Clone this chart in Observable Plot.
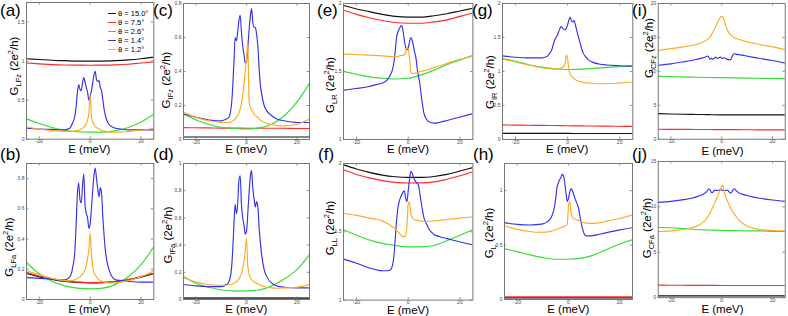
<!DOCTYPE html>
<html><head><meta charset="utf-8">
<script src="https://cdn.jsdelivr.net/npm/d3@7"></script>
<script src="https://cdn.jsdelivr.net/npm/@observablehq/plot@0.6"></script>
<style>
body{margin:0;background:#fff;font-family:"Liberation Sans",Arial,sans-serif;}
#root{position:relative;width:788px;height:316px;overflow:hidden;background:#fff;}
.panel{position:absolute;}
.panel svg{overflow:visible;}
.letter{position:absolute;font-size:17px;line-height:1;color:#000;white-space:nowrap;}
.ylab{position:absolute;font-size:11.5px;line-height:1;white-space:nowrap;transform:translate(-50%,-50%) rotate(-90deg);color:#000;}
.ylab .sb{font-size:7.5px;position:relative;top:3px;}
.ylab .sp{font-size:7.5px;position:relative;top:-5px;}
.xlab{position:absolute;font-size:11.5px;line-height:1;white-space:nowrap;transform:translate(-50%,-50%);color:#000;}
.legend{position:absolute;left:108px;top:9px;font-size:7.5px;line-height:9px;color:#000;}
.legend div{height:9px;white-space:nowrap;}
.legend .sw{display:inline-block;width:8px;height:0;border-top:1.4px solid;vertical-align:middle;margin-right:2px;position:relative;top:-1px;}
</style>
</head><body><div id="root"></div>
<script>
// ---------------- data ----------------
const E_c = [-25,-20,-15,-10,-5,0,5,10,15,20,25];
const E_f = [-25,-20,-15,-12,-10,-8,-7,-6,-5.5,-5,-4.5,-4,-3.5,-3,-2.5,-2,-1.5,-1,-0.5,0,0.5,1,1.5,2,2.5,3,3.5,4,4.5,5,5.5,6,7,8,10,12,15,20,25];
const xTicks = [-20,0,20];
const thetaLabels = ["θ = 15.0°","θ = 7.5°","θ = 2.6°","θ = 1.4°","θ = 1.2°"];

// (a) G_LFz
const aK = [1.03,1.02,1.01,1.005,1.0,1.0,1.0,1.005,1.015,1.03,1.05];
const aR = [0.975,0.965,0.955,0.95,0.948,0.947,0.948,0.952,0.96,0.975,0.99];
const aG = [0.26,0.2,0.15,0.115,0.095,0.09,0.09,0.11,0.15,0.22,0.32];
const aB = [0.14,0.13,0.125,0.12,0.12, 0.14,0.2,0.3,0.42,0.6, 0.70,0.64,0.62,0.72,0.79, 0.73,0.66,0.6,0.5,0.55, 0.62,0.72,0.82,0.87,0.76, 0.74,0.75,0.66,0.62,0.5, 0.38,0.3,0.21,0.17,0.14, 0.13,0.12,0.12,0.12];
const aO = [0.16,0.13,0.11,0.105,0.1, 0.1,0.1,0.105,0.11,0.11, 0.115,0.12,0.13,0.14,0.15, 0.17,0.2,0.25,0.33,0.57, 0.3,0.22,0.19,0.16,0.15, 0.14,0.13,0.12,0.115,0.11, 0.105,0.1,0.095,0.09,0.09, 0.09,0.1,0.115,0.14];
const aTicks = [0,0.5,1,1.5];
// (b) G_LFa
const bK = [0.172,0.15,0.133,0.12,0.113,0.11,0.112,0.118,0.13,0.148,0.17];
const bR = [0.18,0.155,0.137,0.123,0.115,0.112,0.113,0.12,0.133,0.152,0.175];
const bG = [0.245,0.17,0.12,0.09,0.075,0.07,0.075,0.1,0.15,0.23,0.35];
const bB = [0.145,0.14,0.135,0.13,0.13, 0.15,0.2,0.32,0.5,0.7, 0.77,0.66,0.64,0.75,0.83, 0.62,0.57,0.54,0.47,0.5, 0.6,0.72,0.82,0.87,0.8, 0.73,0.68,0.74,0.7,0.54, 0.42,0.32,0.22,0.17,0.13, 0.125,0.12,0.115,0.115];
const bO = [0.19,0.165,0.14,0.13,0.125, 0.125,0.125,0.13,0.135,0.14, 0.145,0.15,0.16,0.17,0.18, 0.2,0.23,0.27,0.33,0.44, 0.3,0.22,0.18,0.16,0.15, 0.14,0.13,0.125,0.12,0.12, 0.115,0.115,0.11,0.11,0.11, 0.115,0.125,0.15,0.19];
const bTicks = [0,0.2,0.4,0.6,0.8];
// (c) G_IFz
const cK = [0.015,0.015,0.015,0.015,0.015,0.015,0.015,0.015,0.015,0.015,0.015];
const cR = [0.07,0.069,0.068,0.067,0.067,0.066,0.066,0.066,0.066,0.065,0.065];
const cG = [0.15,0.115,0.09,0.072,0.065,0.062,0.068,0.09,0.14,0.22,0.33];
const cB = [0.15,0.13,0.115,0.11,0.11, 0.12,0.13,0.2,0.3,0.45, 0.6,0.58,0.63,0.7,0.73, 0.63,0.55,0.5,0.45,0.46, 0.53,0.64,0.72,0.77,0.69, 0.66,0.66,0.62,0.55,0.42, 0.32,0.27,0.2,0.17,0.14, 0.12,0.11,0.1,0.1];
const cO = [0.16,0.13,0.11,0.105,0.1, 0.1,0.1,0.105,0.11,0.115, 0.12,0.13,0.14,0.155,0.18, 0.21,0.26,0.32,0.4,0.48, 0.585,0.23,0.19,0.175,0.16, 0.15,0.14,0.135,0.13,0.12, 0.115,0.11,0.1,0.095,0.088, 0.083,0.08,0.09,0.12];
const cTicks = [0,0.2,0.4,0.6,0.8];
// (d) G_IFa
const dK = [0.005,0.005,0.005,0.005,0.005,0.005,0.005,0.005,0.005,0.005,0.005];
const dR = [0.015,0.015,0.015,0.015,0.015,0.015,0.015,0.015,0.015,0.015,0.015];
const dG = [0.17,0.12,0.09,0.07,0.062,0.063,0.07,0.1,0.15,0.22,0.33];
const dB = [0.11,0.1,0.095,0.095,0.095, 0.11,0.13,0.22,0.35,0.55, 0.7,0.63,0.7,0.88,0.91, 0.7,0.6,0.55,0.48,0.5, 0.63,0.78,0.9,0.95,0.82, 0.74,0.68,0.72,0.68,0.53, 0.42,0.33,0.22,0.17,0.12, 0.1,0.09,0.085,0.085];
const dO = [0.16,0.13,0.11,0.105,0.105, 0.105,0.11,0.11,0.115,0.12, 0.125,0.13,0.14,0.15,0.17, 0.19,0.23,0.28,0.36,0.45, 0.25,0.19,0.16,0.145,0.135, 0.13,0.125,0.12,0.115,0.11, 0.105,0.1,0.095,0.09,0.085, 0.083,0.085,0.09,0.11];
const dTicks = [0,0.2,0.4,0.6,0.8,1];
// (e) G_LR
const eK = [1.985,1.96,1.94,1.92,1.905,1.9,1.9,1.91,1.925,1.945,1.965];
const eR = [1.95,1.92,1.895,1.875,1.86,1.855,1.855,1.865,1.88,1.905,1.93];
const eG = [1.5,1.48,1.46,1.45,1.445,1.45,1.475,1.51,1.55,1.585,1.62];
const eB = [1.363,1.375,1.39,1.405,1.415, 1.44,1.47,1.52,1.57,1.65, 1.75,1.79,1.81,1.83,1.84, 1.8,1.73,1.68,1.66,1.67, 1.72,1.75,1.73,1.69,1.64, 1.6,1.52,1.46,1.41,1.33, 1.26,1.2,1.15,1.13,1.12, 1.125,1.14,1.165,1.19];
const eO = [1.628,1.625,1.62,1.617,1.615, 1.612,1.61,1.61,1.61,1.61, 1.61,1.612,1.614,1.616,1.618, 1.62,1.625,1.64,1.68,1.67, 1.6,1.5,1.485,1.485,1.487, 1.49,1.492,1.495,1.498,1.5, 1.503,1.506,1.51,1.516,1.53, 1.54,1.56,1.59,1.61];
const eTicks = [1,1.5,2];
// (f) G_LL
const fK = [1.99,1.96,1.935,1.915,1.903,1.898,1.898,1.905,1.92,1.945,1.97];
const fR = [1.954,1.92,1.895,1.875,1.862,1.857,1.858,1.865,1.885,1.91,1.94];
const fG = [1.515,1.475,1.44,1.415,1.4,1.39,1.39,1.4,1.435,1.475,1.515];
const fB = [1.30,1.27,1.235,1.22,1.215, 1.215,1.22,1.26,1.33,1.45, 1.58,1.67,1.72,1.75,1.77, 1.79,1.80,1.75,1.72,1.8, 1.88,1.94,1.93,1.9,1.88, 1.865,1.855,1.84,1.78,1.72, 1.66,1.61,1.56,1.52,1.48, 1.465,1.45,1.425,1.405];
const fO = [1.634,1.62,1.6,1.59,1.58, 1.56,1.55,1.535,1.53,1.52, 1.51,1.5,1.49,1.48,1.47, 1.465,1.463,1.47,1.54,1.7, 1.72,1.63,1.61,1.595,1.59, 1.585,1.583,1.58,1.58,1.578, 1.577,1.577,1.577,1.577,1.58, 1.583,1.59,1.6,1.61];
const fTicks = [1,1.5,2];
// (g) G_IR
const gK = [0.09,0.09,0.09,0.089,0.089,0.089,0.088,0.088,0.088,0.088,0.088];
const gR = [0.215,0.212,0.21,0.207,0.205,0.202,0.2,0.198,0.196,0.194,0.192];
const gG = [1.19,1.15,1.1,1.065,1.04,1.03,1.035,1.045,1.06,1.07,1.08];
const gB = [1.23,1.21,1.2,1.2,1.2, 1.22,1.26,1.33,1.4,1.46, 1.5,1.53,1.58,1.63,1.66, 1.64,1.62,1.61,1.64,1.69, 1.76,1.8,1.74,1.73,1.75, 1.68,1.6,1.53,1.46,1.39, 1.32,1.27,1.21,1.17,1.13, 1.11,1.095,1.085,1.08];
const gO = [1.18,1.14,1.095,1.07,1.055, 1.045,1.04,1.037,1.036,1.035, 1.036,1.038,1.04,1.045,1.05, 1.06,1.08,1.11,1.24,1.18, 1.02,0.96,0.93,0.91,0.895, 0.88,0.87,0.86,0.855,0.85, 0.845,0.84,0.835,0.83,0.825, 0.82,0.82,0.83,0.845];
const gTicks = [0,0.5,1,1.5,2];
// (h) G_L
const hK = [0.015,0.015,0.015,0.015,0.015,0.015,0.015,0.015,0.015,0.015,0.015];
const hR = [0.025,0.025,0.025,0.025,0.025,0.025,0.025,0.025,0.025,0.025,0.025];
const hG = [0.465,0.44,0.41,0.385,0.37,0.37,0.38,0.41,0.46,0.51,0.55];
const hB = [0.706,0.69,0.685,0.69,0.695, 0.72,0.745,0.8,0.85,0.93, 1.03,1.07,1.1,1.12,1.15, 1.14,1.08,0.98,0.9,0.93, 0.99,1.02,1.0,0.97,0.93, 0.9,0.87,0.83,0.76,0.7, 0.65,0.61,0.585,0.585,0.59, 0.6,0.615,0.64,0.66];
const hO = [0.676,0.645,0.625,0.618,0.618, 0.622,0.626,0.632,0.636,0.64, 0.645,0.65,0.655,0.66,0.665, 0.67,0.675,0.68,0.69,0.86, 0.9,0.8,0.76,0.745,0.74, 0.735,0.73,0.725,0.72,0.715, 0.71,0.707,0.703,0.7,0.7, 0.705,0.72,0.745,0.776];
const hTicks = [0,0.5,1];
// (i) G_CFz
const iK = [3.78,3.72,3.68,3.65,3.62,3.6,3.6,3.6,3.6,3.6,3.6];
const iR = [1.47,1.46,1.45,1.44,1.43,1.42,1.41,1.4,1.39,1.385,1.38];
const iG = [9.26,9.22,9.18,9.14,9.1,9.07,9.04,9.01,8.98,8.95,8.92];
const iB = [10.9,11.1,11.4,11.6,11.75, 11.95,12.05,12.2,12.26,12.0, 11.75,11.95,11.8,11.85,12.1, 12.0,11.9,12.05,12.1,11.9, 11.95,12.0,11.9,11.8,11.75, 11.7,11.75,12.1,12.5,12.6, 12.55,12.5,12.45,12.4,12.25, 12.1,11.9,11.6,11.2];
const iO = [13.1,13.35,13.6,13.8,13.95, 14.2,14.4,14.6,14.75,14.9, 15.1,15.4,15.8,16.1,16.5, 16.9,17.3,17.7,18.0,18.1, 18.0,17.5,16.8,16.3,15.9, 15.6,15.4,15.2,15.05,14.95, 14.85,14.8,14.7,14.55,14.35, 14.2,13.95,13.6,13.2];
const iTicks = [0,5,10,15,20];
// (j) G_CFa
const jK = [0.2,0.2,0.2,0.2,0.2,0.2,0.2,0.2,0.2,0.2,0.2];
const jR = [1.38,1.37,1.36,1.35,1.35,1.34,1.34,1.34,1.34,1.34,1.34];
const jG = [7.76,7.7,7.6,7.5,7.45,7.4,7.38,7.35,7.35,7.3,7.28];
const jB = [10.5,10.6,10.8,10.95,11.1, 11.3,11.45,11.65,11.85,12.0, 11.85,11.55,11.6,11.8,11.85, 11.8,11.8,11.85,11.9,11.85, 11.8,11.8,11.8,11.85,11.8, 11.6,11.5,11.65,11.9,12.0, 11.85,11.7,11.5,11.4,11.25, 11.1,10.95,10.75,10.6];
const jO = [7.28,7.35,7.5,7.7,7.85, 8.15,8.4,8.7,8.9,9.15, 9.4,9.7,9.95,10.3,10.6, 10.95,11.25,11.6,12.0,12.3, 12.4,11.6,11.2,10.85,10.5, 10.2,9.9,9.6,9.4,9.2, 9.0,8.8,8.5,8.25,7.9, 7.7,7.5,7.4,7.35];
const jTicks = [0,5,10,15];

// ---------------- layout ----------------
const colors = {K:"#111111", R:"#ff2a2a", G:"#33dd33", B:"#3333ee", O:"#ffaa22"};
const panels = [
  {L:"(a)", s:[aK,aR,aG,aB,aO], yd:[0,1.75], yt:aTicks, sub:"LFz", box:[25.7,153,2,138.7], lab:[15,66], let:[0,1.5]},
  {L:"(b)", s:[bK,bR,bG,bB,bO], yd:[0,0.9], yt:bTicks, sub:"LFa", box:[25.7,153,162.7,298.7], lab:[10,247], let:[0,146]},
  {L:"(c)", s:[cK,cR,cG,cB,cO], yd:[0,0.8], yt:cTicks, sub:"IFz", box:[183.3,309.3,2.7,138.7], lab:[167,80], let:[153,1.5]},
  {L:"(d)", s:[dK,dR,dG,dB,dO], yd:[0,1], yt:dTicks, sub:"IFa", box:[183.3,309.3,162.7,298.7], lab:[169,235], let:[153,146]},
  {L:"(e)", s:[eK,eR,eG,eB,eO], yd:[1,2], yt:eTicks, sub:"LR", box:[343.3,472.7,2.7,138.7], lab:[331,85], let:[317,1.5]},
  {L:"(f)", s:[fK,fR,fG,fB,fO], yd:[1,2], yt:fTicks, sub:"LL", box:[343.3,472.7,162.7,299.3], lab:[331,228], let:[318,146]},
  {L:"(g)", s:[gK,gR,gG,gB,gO], yd:[0,2], yt:gTicks, sub:"IR", box:[502,632.3,2.7,138.7], lab:[491,82], let:[472,1.5]},
  {L:"(h)", s:[hK,hR,hG,hB,hO], yd:[0,1.25], yt:hTicks, sub:"L", box:[504.3,632.3,162.7,298.7], lab:[490,233], let:[473,146]},
  {L:"(i)", s:[iK,iR,iG,iB,iO], yd:[0,20], yt:iTicks, sub:"CFz", box:[658.3,786.7,2.7,140], lab:[650,48], let:[632,1.5]},
  {L:"(j)", s:[jK,jR,jG,jB,jO], yd:[0,15], yt:jTicks, sub:"CFa", box:[658.3,786.7,161,298.7], lab:[648,228], let:[632,146]}
];
const keys = ["K","R","G","B","O"];
const root = document.getElementById("root");
const fmt = d => String(d);

panels.forEach(p => {
  const [x0,x1,y0,y1] = p.box;
  const mL=24, mR=3, mT=3, mB=10;
  const w = x1-x0, h = y1-y0;
  const lineMarks = p.s.map((vals,k) => {
    const E = vals.length === E_c.length ? E_c : E_f;
    const rows = vals.map((v,i) => ({E:E[i], G:v}));
    return Plot.line(rows, {x:"E", y:"G", stroke:colors[keys[k]], strokeWidth:1.15, curve:"monotone-x", clip:true});
  });
  const chart = Plot.plot({
    width: w+mL+mR, height: h+mT+mB,
    marginLeft:mL, marginRight:mR, marginTop:mT, marginBottom:mB,
    x:{domain:[-25,25], label:null},
    y:{domain:p.yd, label:null},
    style:{fontFamily:"Liberation Sans, Arial, sans-serif", background:"transparent", color:"#444", overflow:"visible"},
    marks:[
      ...lineMarks,
      Plot.tickX(xTicks, {x:d=>d, insetBottom:h-2.5, stroke:"#777", strokeWidth:0.8}),
      Plot.tickX(xTicks, {x:d=>d, insetTop:h-2.5, stroke:"#777", strokeWidth:0.8}),
      Plot.tickY(p.yt, {y:d=>d, insetRight:w-2.5, stroke:"#777", strokeWidth:0.8}),
      Plot.tickY(p.yt, {y:d=>d, insetLeft:w-2.5, stroke:"#777", strokeWidth:0.8}),
      Plot.axisX({ticks:xTicks, tickSize:0, tickPadding:0.5, fontSize:5.2, tickFormat:fmt, label:null}),
      Plot.axisY({ticks:p.yt, tickSize:0, tickPadding:2, fontSize:5, tickFormat:fmt, label:null}),
      Plot.frame({stroke:"#777", strokeWidth:1})
    ]
  });
  const div = document.createElement("div");
  div.className = "panel";
  div.style.left = (x0-mL)+"px";
  div.style.top = (y0-mT)+"px";
  div.appendChild(chart);
  root.appendChild(div);

  const lt = document.createElement("div");
  lt.className = "letter";
  lt.style.left = p.let[0]+"px"; lt.style.top = p.let[1]+"px";
  lt.textContent = p.L;
  root.appendChild(lt);

  const yl = document.createElement("div");
  yl.className = "ylab";
  yl.style.left = p.lab[0]+"px"; yl.style.top = p.lab[1]+"px";
  yl.innerHTML = 'G<span class="sb">' + p.sub + '</span> (2e<span class="sp">2</span>/h)';
  root.appendChild(yl);

  const xl = document.createElement("div");
  xl.className = "xlab";
  xl.style.left = ((x0+x1)/2)+"px";
  xl.style.top = (y1+11.6)+"px";
  xl.textContent = "E (meV)";
  root.appendChild(xl);
});

// legend in panel (a)
const lg = document.createElement("div");
lg.className = "legend";
thetaLabels.forEach((t,k) => {
  const r = document.createElement("div");
  const sw = document.createElement("span");
  sw.className = "sw"; sw.style.borderColor = colors[keys[k]];
  r.appendChild(sw);
  r.appendChild(document.createTextNode(t));
  lg.appendChild(r);
});
root.appendChild(lg);
</script>
</body></html>
